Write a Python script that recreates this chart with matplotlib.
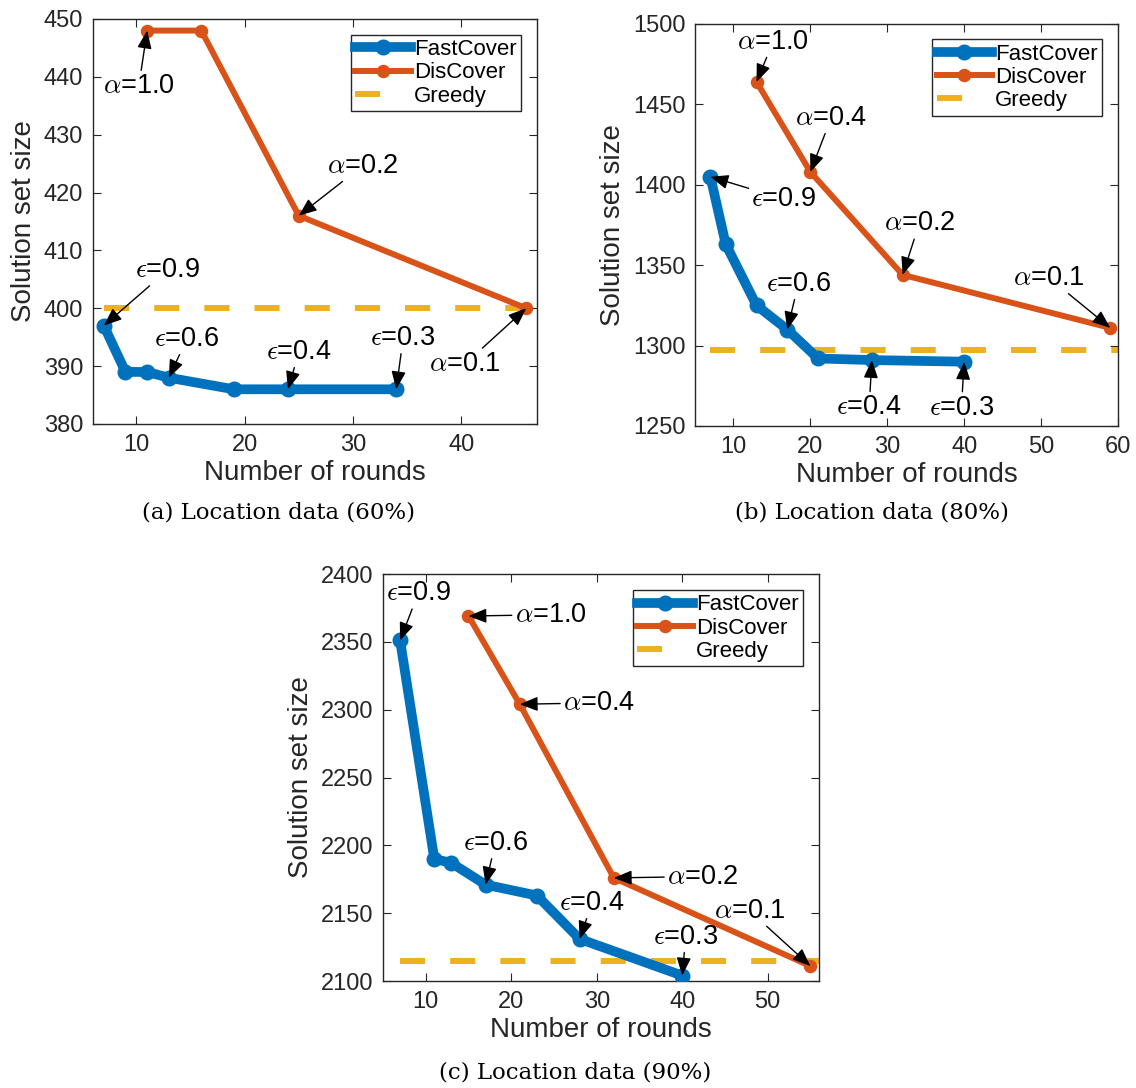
import matplotlib
matplotlib.use('Agg')
import matplotlib.pyplot as plt
from matplotlib.lines import Line2D

plt.rcParams['font.family'] = ['Liberation Sans', 'DejaVu Sans']
plt.rcParams['mathtext.fontset'] = 'cm'

BLUE = '#0072BD'
ORANGE = '#D95319'
YELLOW = '#EDB120'

# (a) Location data (60%)
fast_x_a = [7, 9, 11, 13, 19, 24, 34]
fast_y_a = [397, 389, 389, 388, 386, 386, 386]
dis_x_a = [11, 16, 25, 46]
dis_y_a = [448, 448, 416, 400]
greedy_a = 400

# (b) Location data (80%)
fast_x_b = [7, 9, 13, 17, 21, 28, 40]
fast_y_b = [1405, 1363, 1325, 1310, 1292, 1291, 1290]
dis_x_b = [13, 20, 32, 59]
dis_y_b = [1464, 1408, 1344, 1311]
greedy_b = 1297

# (c) Location data (90%)
fast_x_c = [7, 11, 13, 17, 23, 28, 40]
fast_y_c = [2351, 2190, 2187, 2171, 2163, 2131, 2104]
dis_x_c = [15, 21, 32, 55]
dis_y_c = [2369, 2304, 2176, 2111]
greedy_c = 2115

eps_labels = [r'$\epsilon$=0.9', r'$\epsilon$=0.6', r'$\epsilon$=0.4', r'$\epsilon$=0.3']
alpha_labels_a = [r'$\alpha$=1.0', r'$\alpha$=0.2', r'$\alpha$=0.1']
alpha_labels_bc = [r'$\alpha$=1.0', r'$\alpha$=0.4', r'$\alpha$=0.2', r'$\alpha$=0.1']

# (series, point index, label, text offset in points)
notes_a = [('d', 0, alpha_labels_a[0], (-6, -40)),
           ('d', 2, alpha_labels_a[1], (46, 36)),
           ('d', 3, alpha_labels_a[2], (-44, -40)),
           ('f', 0, eps_labels[0], (46, 40)),
           ('f', 3, eps_labels[1], (13, 28)),
           ('f', 5, eps_labels[2], (8, 27)),
           ('f', 6, eps_labels[3], (5, 37))]
notes_b = [('d', 0, alpha_labels_bc[0], (12, 29)),
           ('d', 1, alpha_labels_bc[1], (15, 39)),
           ('d', 2, alpha_labels_bc[2], (12, 37)),
           ('d', 3, alpha_labels_bc[3], (-44, 36)),
           ('f', 0, eps_labels[0], (53, -16)),
           ('f', 3, eps_labels[1], (8, 33)),
           ('f', 5, eps_labels[2], (-2, -34)),
           ('f', 6, eps_labels[3], (-2, -33))]
notes_c = [('d', 0, alpha_labels_bc[0], (59, 1)),
           ('d', 1, alpha_labels_bc[1], (57, 1)),
           ('d', 2, alpha_labels_bc[2], (64, 1)),
           ('d', 3, alpha_labels_bc[3], (-44, 40)),
           ('f', 0, eps_labels[0], (13, 34)),
           ('f', 3, eps_labels[1], (7, 30)),
           ('f', 5, eps_labels[2], (9, 26)),
           ('f', 6, eps_labels[3], (2.5, 28))]

W, H = 1136, 1088
fig = plt.figure(figsize=(W / 100, H / 100), dpi=100)


def box(l, t, r, b):
    return [l / W, 1 - b / H, (r - l) / W, (b - t) / H]


def panel(rect, fx, fy, dx, dy, gy, xlim, ylim, xticks, yticks, notes, leg_anchor):
    ax = fig.add_axes(rect)
    ax.plot(fx, fy, '-o', color=BLUE, lw=7, ms=10, mew=1.5, zorder=3)
    ax.plot(dx, dy, '-o', color=ORANGE, lw=4.3, ms=8.5, mew=1.2, zorder=3)
    ax.plot([fx[0], xlim[1]], [gy, gy], color=YELLOW, lw=4.3,
            dashes=(4.2, 4.2), zorder=2, clip_on=False)
    ax.set_xlim(xlim)
    ax.set_ylim(ylim)
    ax.set_xticks(xticks)
    ax.set_yticks(yticks)
    ax.tick_params(direction='in', top=True, right=True, length=6, width=0.8,
                   labelsize=17, pad=7, colors='#262626')
    for s in ax.spines.values():
        s.set_linewidth(1.0)
        s.set_color('#262626')
    ax.set_xlabel('Number of rounds', fontsize=20, labelpad=3, color='#262626')
    ax.set_ylabel('Solution set size', fontsize=20, labelpad=5, color='#262626')
    series = {'f': (fx, fy), 'd': (dx, dy)}
    for key, i, label, off in notes:
        xs, ys = series[key]
        ax.annotate(label, xy=(xs[i], ys[i]), xytext=off, textcoords='offset points',
                    ha='center', va='center', fontsize=19.5, zorder=5,
                    arrowprops=dict(arrowstyle='-|>,head_length=0.55,head_width=0.22',
                                    mutation_scale=20, color='black', lw=1.0,
                                    shrinkA=0, shrinkB=0))
    handles = [Line2D([], [], color=BLUE, lw=7, marker='o', ms=10, mew=1.5),
               Line2D([], [], color=ORANGE, lw=4.3, marker='o', ms=8.5, mew=1.2),
               Line2D([], [], color=YELLOW, lw=4.3, dashes=(4.2, 12))]
    leg = ax.legend(handles, ['FastCover', 'DisCover', 'Greedy'], loc='upper right',
                    bbox_to_anchor=leg_anchor, borderaxespad=0, fontsize=16,
                    handlelength=2.5, handletextpad=0.14, labelspacing=0.1,
                    borderpad=0.2, fancybox=False, framealpha=1, edgecolor='#262626')
    leg.get_frame().set_linewidth(1.0)
    return ax


panel(box(93, 19, 537, 424), fast_x_a, fast_y_a, dis_x_a, dis_y_a, greedy_a,
      (6, 47), (380, 450), [10, 20, 30, 40], list(range(380, 451, 10)), notes_a,
      (0.964, 0.961))
panel(box(695, 24, 1118, 426), fast_x_b, fast_y_b, dis_x_b, dis_y_b, greedy_b,
      (5, 60), (1250, 1500), [10, 20, 30, 40, 50, 60], list(range(1250, 1501, 50)), notes_b,
      (0.963, 0.962))
panel(box(383, 574, 819, 981), fast_x_c, fast_y_c, dis_x_c, dis_y_c, greedy_c,
      (5, 56), (2100, 2400), [10, 20, 30, 40, 50], list(range(2100, 2401, 50)), notes_c,
      (0.963, 0.961))

cap = dict(ha='center', va='center', fontsize=16.5, family='DejaVu Serif')
fig.text(279 / W, 1 - 513 / H, '(a) Location data (60%)', **cap)
fig.text(872 / W, 1 - 513 / H, '(b) Location data (80%)', **cap)
fig.text(575 / W, 1 - 1073 / H, '(c) Location data (90%)', **cap)

fig.savefig('out.png', dpi=100)
